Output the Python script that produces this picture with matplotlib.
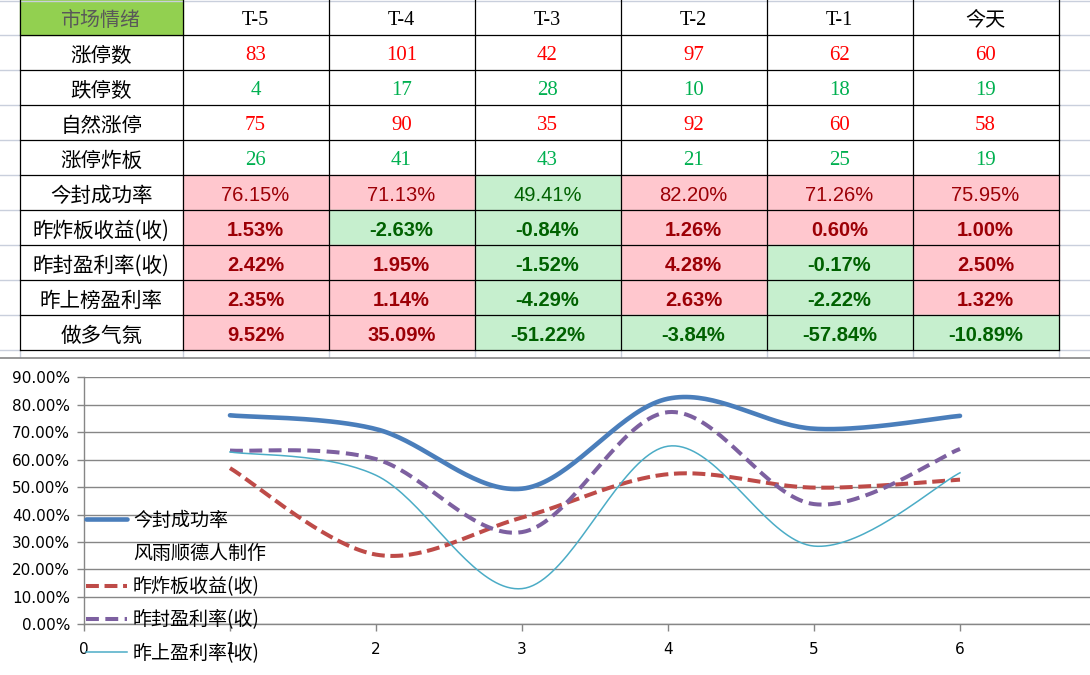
import numpy as np
import matplotlib
matplotlib.use('Agg')
import matplotlib.pyplot as plt
from matplotlib.patches import Rectangle
from matplotlib.ticker import FuncFormatter

# 表格数据
cols = ['T-5', 'T-4', 'T-3', 'T-2', 'T-1', '今天']
count_rows = ['涨停数', '跌停数', '自然涨停', '涨停炸板']
zt = [83, 101, 42, 97, 62, 60]
dt = [4, 17, 28, 10, 18, 19]
zrzt = [75, 90, 35, 92, 60, 58]
zb = [26, 41, 43, 21, 25, 19]

pct_rows = ['今封成功率', '昨炸板收益(收)', '昨封盈利率(收)', '昨上榜盈利率', '做多气氛']
fbl = [76.15, 71.13, 49.41, 82.20, 71.26, 75.95]
zbsy = [1.53, -2.63, -0.84, 1.26, 0.60, 1.00]
zfyl = [2.42, 1.95, -1.52, 4.28, -0.17, 2.50]
zsb = [2.35, 1.14, -4.29, 2.63, -2.22, 1.32]
zdqf = [9.52, 35.09, -51.22, -3.84, -57.84, -10.89]

# 折线图数据
xs = [1, 2, 3, 4, 5, 6]
line_fbl = [0.7615, 0.7113, 0.4941, 0.8220, 0.7126, 0.7595]
line_zbsy = [0.569, 0.254, 0.389, 0.547, 0.498, 0.527]
line_zfyl = [0.633, 0.602, 0.336, 0.773, 0.438, 0.639]
line_zsb = [0.628, 0.543, 0.130, 0.649, 0.285, 0.552]

W, H = 1090, 675
fig = plt.figure(figsize=(W / 100, H / 100), dpi=100)
bg = fig.add_axes([0, 0, 1, 1])
bg.set_xlim(0, W)
bg.set_ylim(H, 0)
bg.axis('off')

CJK = ['Noto Sans CJK SC', 'DejaVu Sans']
SERIF = ['Liberation Serif', 'Noto Sans CJK SC']
ARIAL = ['Liberation Sans', 'DejaVu Sans']

col_x = [20, 182.5, 328.5, 474.5, 620.5, 766.5, 912.5, 1058.5]
row_h = 35
top = 0.3
n_rows = 1 + len(count_rows) + len(pct_rows)
sheet_grid = '#C9CFDC'
dy = 3  # 文字稍微往下

# 表格外的网格线
bg.plot([0, W], [0.5, 0.5], color=sheet_grid, lw=1)
for i in range(1, n_rows + 1):
    y = top + i * row_h
    bg.plot([0, col_x[0]], [y, y], color=sheet_grid, lw=1)
    bg.plot([col_x[-1], W], [y, y], color=sheet_grid, lw=1)
for x in col_x:
    bg.plot([x, x], [top + n_rows * row_h, 357], color=sheet_grid, lw=1)

def cell_center(r, c):
    return (col_x[c] + col_x[c + 1]) / 2, top + r * row_h + row_h / 2 + dy

# 表头
bg.add_patch(Rectangle((col_x[0], top), col_x[1] - col_x[0], row_h, color='#92D050', zorder=1))
cx, cy = cell_center(0, 0)
bg.text(cx, cy, '市场情绪', family=CJK, fontsize=14.4, color='#595959', ha='center', va='center')
for j, name in enumerate(cols):
    cx, cy = cell_center(0, j + 1)
    bg.text(cx, cy, name, family=SERIF, fontsize=14.5, color='black', ha='center', va='center')

# 数量行
count_vals = [zt, dt, zrzt, zb]
count_colors = ['#FF0000', '#00B050', '#FF0000', '#00B050']
for i, (name, vals) in enumerate(zip(count_rows, count_vals)):
    r = i + 1
    cx, cy = cell_center(r, 0)
    bg.text(cx, cy, name, family=CJK, fontsize=14.8, color='black', ha='center', va='center')
    for j, v in enumerate(vals):
        cx, cy = cell_center(r, j + 1)
        bg.text(cx, cy, str(v), family=SERIF, fontsize=15, color=count_colors[i],
                ha='center', va='center')

# 百分比行
pct_vals = [fbl, zbsy, zfyl, zsb, zdqf]
thresholds = [50, 0, 0, 0, 0]
for i, (name, vals) in enumerate(zip(pct_rows, pct_vals)):
    r = i + 1 + len(count_rows)
    cx, cy = cell_center(r, 0)
    bg.text(cx, cy, name, family=CJK, fontsize=14.8, color='black', ha='center', va='center')
    for j, v in enumerate(vals):
        good = v >= thresholds[i]
        fill = '#FFC7CE' if good else '#C6EFCE'
        tc = '#9C0006' if good else '#006100'
        bg.add_patch(Rectangle((col_x[j + 1], top + r * row_h), col_x[j + 2] - col_x[j + 1],
                               row_h, color=fill, zorder=1))
        cx, cy = cell_center(r, j + 1)
        bg.text(cx, cy, f'{v:.2f}%', family=ARIAL, fontsize=14.5, color=tc,
                weight='normal' if i == 0 else 'bold', ha='center', va='center')

# 表格边框
y_end = top + n_rows * row_h
for x in col_x:
    bg.plot([x, x], [0, y_end], color='black', lw=0.9, zorder=3)
for i in range(1, n_rows + 1):
    y = top + i * row_h
    bg.plot([col_x[0], col_x[-1]], [y, y], color='black', lw=0.9, zorder=3)

# 图表边框
bg.plot([0, W], [358, 358], color='#868686', lw=1.2)

# 折线图
x0_px, y0_px, y90_px = 84, 624.3, 377.3
unit_px = 146
ax = fig.add_axes([x0_px / W, (H - y0_px) / H, (W - x0_px) / W, (y0_px - y90_px) / H])
ax.set_xlim(0, (W - x0_px) / unit_px)
ax.set_ylim(0, 0.9)
ax.patch.set_alpha(0)


def smooth(x, y, n=40):
    pts = np.column_stack([x, y]).astype(float)
    out = []
    m = len(pts)
    for i in range(m - 1):
        p0 = pts[max(i - 1, 0)]
        p1 = pts[i]
        p2 = pts[i + 1]
        p3 = pts[min(i + 2, m - 1)]
        c1 = p1 + (p2 - p0) / 6
        c2 = p2 - (p3 - p1) / 6
        t = np.linspace(0, 1, n)[:, None]
        seg = (1 - t) ** 3 * p1 + 3 * (1 - t) ** 2 * t * c1 + 3 * (1 - t) * t ** 2 * c2 + t ** 3 * p2
        out.append(seg if i == 0 else seg[1:])
    out = np.vstack(out)
    return out[:, 0], out[:, 1]


sx, sy = smooth(xs, line_fbl)
ax.plot(sx, sy, color='#4A7EBB', lw=3.3, solid_capstyle='round', label='今封成功率', zorder=5)
ax.plot([], [], linestyle='none', label='风雨顺德人制作')
sx, sy = smooth(xs, line_zbsy)
ax.plot(sx, sy, color='#BE4B48', lw=2.9, dashes=(3.2, 1.4), label='昨炸板收益(收)', zorder=4)
sx, sy = smooth(xs, line_zfyl)
ax.plot(sx, sy, color='#7D60A0', lw=2.9, dashes=(3.2, 1.6), label='昨封盈利率(收)', zorder=4)
sx, sy = smooth(xs, line_zsb)
ax.plot(sx, sy, color='#4BACC6', lw=1.1, label='昨上盈利率(收)', zorder=4)

ax.set_yticks(np.arange(0, 0.91, 0.1))
ax.yaxis.set_major_formatter(FuncFormatter(lambda v, p: f'{v * 100:.2f}%'))
ax.set_xticks(range(0, 7))
ax.grid(axis='y', color='#868686', lw=1)
ax.set_axisbelow(True)
for s in ['top', 'right']:
    ax.spines[s].set_visible(False)
for s in ['left', 'bottom']:
    ax.spines[s].set_color('#868686')
    ax.spines[s].set_linewidth(1)
ax.tick_params(axis='both', color='#868686', length=5, width=1, labelsize=11)
ax.tick_params(axis='y', pad=5)
ax.tick_params(axis='x', pad=8)
for lab in ax.get_xticklabels() + ax.get_yticklabels():
    lab.set_family(['DejaVu Sans'])

leg = ax.legend(loc='upper left', bbox_to_anchor=(86 / W, 1 - 510 / H),
                bbox_transform=fig.transFigure, frameon=False,
                prop={'family': CJK, 'size': 13.7}, handlelength=2.15,
                handletextpad=0.32, labelspacing=0.64, borderpad=0, borderaxespad=0)
leg.set_zorder(10)

fig.savefig('out.png', dpi=100)
